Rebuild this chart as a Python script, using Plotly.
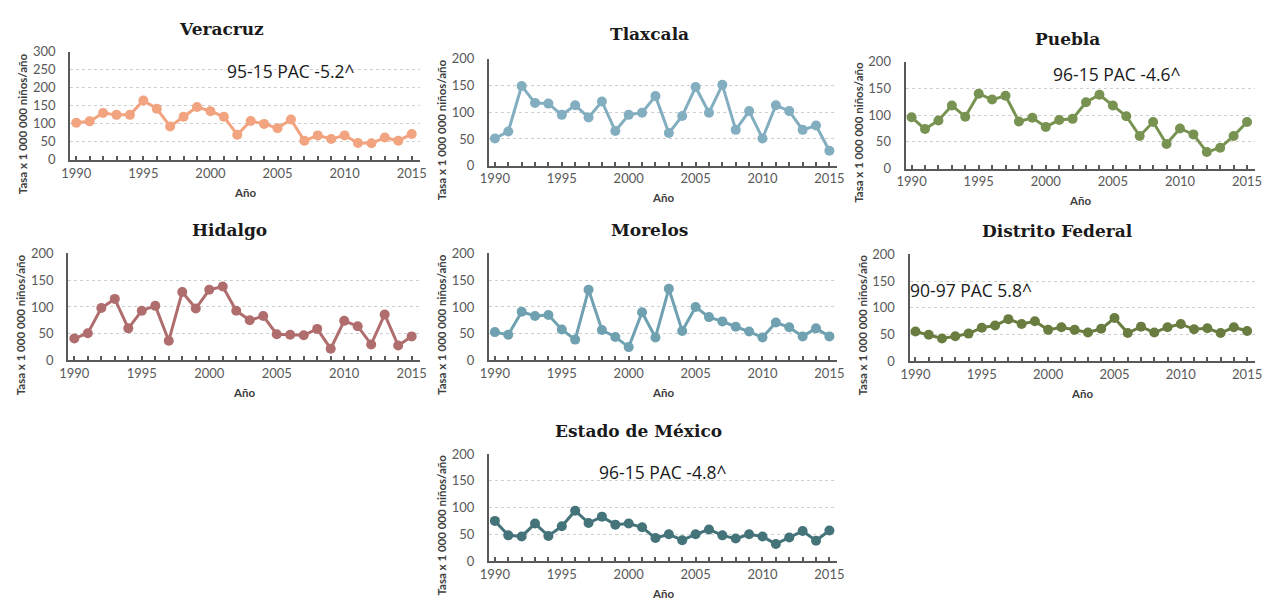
import plotly.graph_objects as go

years = list(range(1990, 2016))

veracruz = [103, 107, 130, 125, 125, 165, 142, 93, 120, 147, 135, 120, 70, 108, 100, 88, 112, 53, 68, 58, 68, 47, 46, 62, 53, 72]
tlaxcala = [51, 64, 149, 117, 116, 95, 113, 90, 120, 65, 95, 99, 130, 61, 93, 147, 99, 151, 67, 102, 51, 113, 102, 67, 75, 28]
puebla = [96, 74, 90, 118, 97, 140, 129, 136, 88, 95, 78, 91, 93, 124, 138, 118, 98, 61, 87, 46, 75, 64, 31, 39, 61, 87]
hidalgo = [41, 51, 98, 115, 60, 93, 102, 37, 128, 97, 132, 138, 93, 75, 83, 49, 48, 47, 59, 22, 74, 64, 30, 86, 28, 45]
morelos = [53, 48, 91, 83, 85, 58, 39, 132, 57, 44, 25, 90, 43, 134, 55, 100, 81, 73, 63, 54, 43, 71, 62, 45, 60, 45]
distrito_federal = [56, 50, 43, 47, 52, 63, 67, 79, 70, 75, 59, 64, 59, 54, 61, 81, 53, 65, 54, 64, 70, 60, 62, 53, 64, 57]
estado_mexico = [75, 48, 46, 70, 47, 65, 94, 71, 83, 68, 70, 63, 43, 50, 39, 50, 59, 48, 42, 50, 46, 32, 44, 56, 38, 57]

titles = ["Veracruz", "Tlaxcala", "Puebla", "Hidalgo", "Morelos", "Distrito Federal", "Estado de México"]
series = [veracruz, tlaxcala, puebla, hidalgo, morelos, distrito_federal, estado_mexico]
colors = ["#F2A37F", "#82AEC0", "#789351", "#B06D6D", "#6FA1B1", "#6A7D41", "#44737A"]
ymax = [300, 200, 200, 200, 200, 200, 200]
pac_texts = ["95-15 PAC -5.2^", None, "96-15 PAC -4.6^", None, None, "90-97 PAC 5.8^", "96-15 PAC -4.8^"]
x_labels = ["1990", "1995", "2000", "2005", "2010", "2015"]
y_title = "Tasa x 1 000 000 niños/año"
x_title = "Año"

W, H = 1270, 609
# plot area boxes in pixels: left, right, top, bottom
boxes = [
    (62, 416, 45, 156),
    (486, 839, 52, 162),
    (908, 1262, 55, 165),
    (60, 416, 252, 362),
    (486, 839, 252, 362),
    (912, 1262, 253, 363),
    (486, 839, 458, 568),
]
# title centers (x, y) in pixels
title_pos = [(215, 22), (649, 27), (1072, 32), (223, 228), (649, 228), (1062, 229), (638, 434)]
# PAC annotation left/center-y
pac_pos = [(219, 65), None, (1055, 68), None, None, (910, 290), (595, 477)]

def px(x):
    return x / W

def py(y):
    return 1 - y / H

fig = go.Figure()
annotations = []
layout = {}
for i, (vals, col, box) in enumerate(zip(series, colors, boxes)):
    n = i + 1
    xa = "x" if n == 1 else f"x{n}"
    ya = "y" if n == 1 else f"y{n}"
    fig.add_trace(go.Scatter(
        x=years, y=vals, mode="lines+markers", xaxis=xa, yaxis=ya,
        line=dict(color=col, width=3),
        marker=dict(color=col, size=10),
        showlegend=False, cliponaxis=False,
    ))
    l, r, t, b = box
    layout["xaxis" if n == 1 else f"xaxis{n}"] = dict(
        domain=[px(l), px(r)], anchor=ya, range=[1989.55, 2015.6],
        tickvals=[int(v) for v in x_labels], ticktext=x_labels,
        ticks="inside", ticklen=4, tickwidth=1.5, tickcolor="#595959",
        minor=dict(dtick=1, tick0=1990, ticks="inside", ticklen=4, tickwidth=1.5, tickcolor="#595959", showgrid=False),
        showline=True, linecolor="#595959", linewidth=2,
        showgrid=False, zeroline=False,
        tickfont=dict(family="Lato", size=13, color="#595959"),
        fixedrange=True,
    )
    layout["yaxis" if n == 1 else f"yaxis{n}"] = dict(
        domain=[py(b), py(t)], anchor=xa, range=[0, ymax[i]], dtick=50,
        showline=True, linecolor="#595959", linewidth=2,
        showgrid=True, gridcolor="#CFCFCF", griddash="dot", gridwidth=1,
        zeroline=False, ticks="", ticklabelstandoff=10,
        tickfont=dict(family="Lato", size=13, color="#595959"),
        fixedrange=True,
    )
    tx, ty = title_pos[i]
    annotations.append(dict(
        text=f"<b>{titles[i]}</b>", x=px(tx), y=py(ty), xref="paper", yref="paper",
        showarrow=False, xanchor="center", yanchor="middle",
        font=dict(family="DejaVu Serif", size=17, color="#1a1a1a"),
    ))
    annotations.append(dict(
        text=f"<b>{y_title}</b>", x=px(l - 48), y=py((t + b) / 2 + 18), xref="paper", yref="paper",
        showarrow=False, xanchor="center", yanchor="middle", textangle=-90,
        font=dict(family="Lato", size=11.5, color="#404040"),
    ))
    annotations.append(dict(
        text=f"<b>{x_title}</b>", x=px((l + r) / 2), y=py(b + 33), xref="paper", yref="paper",
        showarrow=False, xanchor="center", yanchor="middle",
        font=dict(family="Lato", size=11.5, color="#404040"),
    ))
    if pac_texts[i]:
        ax_, ay_ = pac_pos[i]
        annotations.append(dict(
            text=pac_texts[i], x=px(ax_), y=py(ay_), xref="paper", yref="paper",
            showarrow=False, xanchor="left", yanchor="middle",
            font=dict(family="Open Sans", size=17.5, color="#1a1a1a"),
        ))

fig.update_layout(
    width=W, height=H, margin=dict(l=0, r=0, t=0, b=0),
    paper_bgcolor="white", plot_bgcolor="white",
    annotations=annotations, **layout,
)
fig.write_html("out.html")
